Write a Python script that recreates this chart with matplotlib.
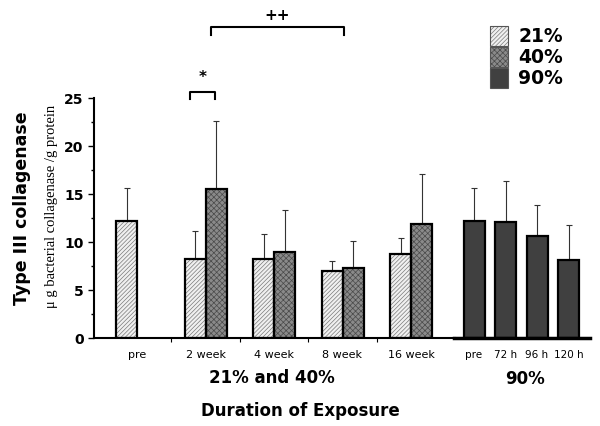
import numpy as np
import matplotlib
matplotlib.use("Agg")
import matplotlib.pyplot as plt

plt.rcParams['hatch.linewidth'] = 0.5

# data
weeks = ["pre", "2 week", "4 week", "8 week", "16 week"]
o21_mean = [12.2, 8.2, 8.2, 7.0, 8.8]
o21_err = [3.4, 2.9, 2.6, 1.0, 1.6]
o40_mean = [None, 15.5, 9.0, 7.3, 11.9]
o40_err = [None, 7.1, 4.3, 2.8, 5.2]

hours = ["pre", "72 h", "96 h", "120 h"]
o90_mean = [12.2, 12.1, 10.6, 8.1]
o90_err = [3.4, 4.3, 3.3, 3.7]

# styles: (face, hatch, hatch colour)
st21 = ('#f0f0f0', '////////', '#7a7a7a')
st40 = ('#8a8a8a', 'xxxxxx', '#4a4a4a')
st90 = ('#404040', '', '#404040')

fig = plt.figure(figsize=(6, 4.27), dpi=100)
ax = fig.add_axes([94/600, 1-339/427, (590-94)/600, (339-99)/427])
ax.set_xlim(94, 590)
ax.set_ylim(0, 25)

bw = 21
wk_x = 137 + 68.5*np.arange(len(weeks))
hr_x = 474 + 31.5*np.arange(len(hours))

ekw = dict(fmt='none', ecolor='#333333', elinewidth=0.8, capsize=2, capthick=0.8)

def hbar(x, h, style):
    fc, hatch, hc = style
    ax.bar(x, h, bw, color=fc, hatch=hatch, edgecolor=hc, linewidth=0, zorder=3)
    ax.bar(x, h, bw, fill=False, edgecolor='black', linewidth=1.6, zorder=4)

for i, c in enumerate(wk_x):
    hbar(c - bw/2, o21_mean[i], st21)
    ax.errorbar(c - bw/2, o21_mean[i], yerr=[[0], [o21_err[i]]], **ekw, zorder=2)
    if o40_mean[i] is not None:
        hbar(c + bw/2, o40_mean[i], st40)
        ax.errorbar(c + bw/2, o40_mean[i], yerr=[[0], [o40_err[i]]], **ekw, zorder=2)

for i, c in enumerate(hr_x):
    hbar(c, o90_mean[i], st90)
ax.errorbar(hr_x, o90_mean, yerr=[np.zeros(4), o90_err], **ekw, zorder=2)

# spines
for s in ['top', 'right', 'bottom']:
    ax.spines[s].set_visible(False)
ax.spines['left'].set_linewidth(1.5)
ax.plot([94, 455], [0, 0], color='black', lw=1.5, clip_on=False, zorder=5)
ax.plot([454, 590], [0, 0], color='black', lw=2.5, clip_on=False, zorder=5)

ax.set_yticks(np.arange(0, 26, 5))
ax.set_yticks(np.arange(2.5, 25, 5), minor=True)
ax.tick_params(axis='y', which='major', length=4, width=1, labelsize=10)
ax.tick_params(axis='y', which='minor', length=2, width=1)
for t in ax.get_yticklabels():
    t.set_fontweight('bold')
ax.set_xticks(wk_x[:-1] + 34.25)
ax.set_xticklabels([])
ax.tick_params(axis='x', length=3, width=0.8, direction='out')

for c, lab in zip(wk_x, weeks):
    ax.text(c, -1.7, lab, ha='center', va='center', fontsize=8)
for c, lab in zip(hr_x, hours):
    ax.text(c, -1.7, lab, ha='center', va='center', fontsize=7.5)

fig.text(272/600, 1-378/427, "21% and 40%", ha='center', va='center',
         fontsize=12, fontweight='bold')
fig.text(525/600, 1-379/427, "90%", ha='center', va='center',
         fontsize=12, fontweight='bold')
fig.text(300/600, 1-411/427, "Duration of Exposure", ha='center', va='center',
         fontsize=12, fontweight='bold')

fig.text(22/600, 1-208/427, "Type III collagenase", rotation=90, ha='center',
         va='center', fontsize=12.5, fontweight='bold')
fig.text(52/600, 1-206/427, "\u03bc g bacterial collagenase /g protein", rotation=90,
         ha='center', va='center', fontsize=10.5, family='Liberation Serif')

# significance brackets
def bracket(x0, x1, y, h, txt, ty):
    ax.plot([x0, x0, x1, x1], [y - h, y, y, y - h], color='black', lw=1.5, clip_on=False)
    ax.text((x0 + x1)/2, ty, txt, ha='center', va='center', fontsize=11,
            fontweight='bold')

bracket(190, 215, 25.6, 0.7, "*", 27.2)
bracket(211, 344, 32.4, 0.8, "++", 33.7)

# legend boxes
lx, lw_ = 490, 18
legend = [("21%", st21), ("40%", st40), ("90%", st90)]
for k, (lab, (fc, h, hc)) in enumerate(legend):
    y0 = 1 - (47 + 21*k)/427
    fig.patches.append(plt.Rectangle((lx/600, y0), lw_/600, 20/427, transform=fig.transFigure,
                                     facecolor=fc, hatch=h, edgecolor=hc, lw=0))
    fig.patches.append(plt.Rectangle((lx/600, y0), lw_/600, 20/427, transform=fig.transFigure,
                                     fill=False, edgecolor='#555555', lw=0.8))
    fig.text(518/600, y0 + 10/427, lab, ha='left', va='center', fontsize=13.5,
             fontweight='bold')

fig.savefig("out.png", dpi=100)
